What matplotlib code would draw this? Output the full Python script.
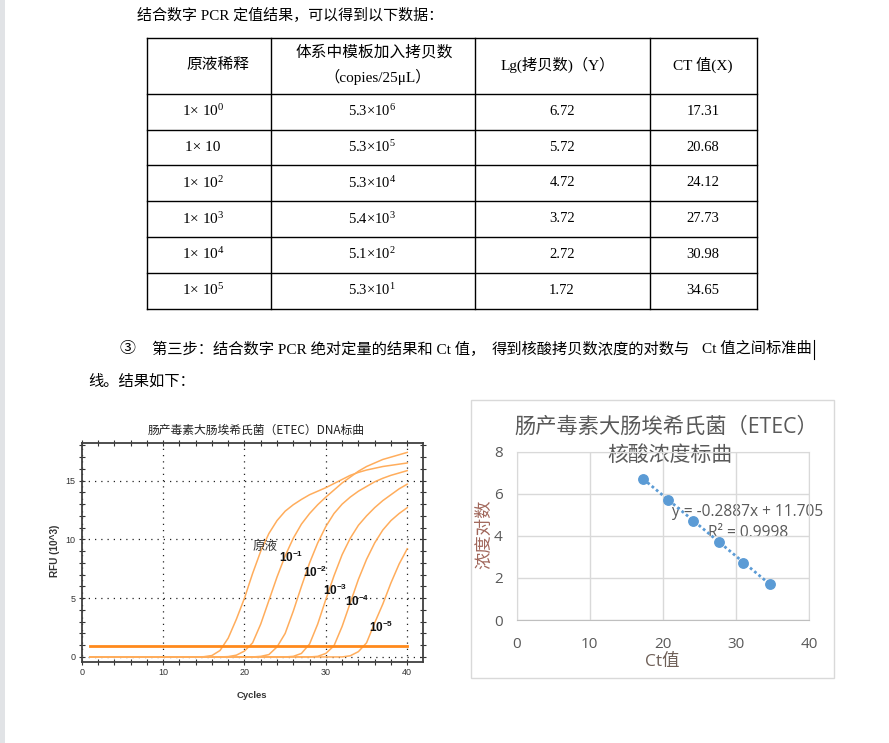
import numpy as np
import matplotlib
matplotlib.use('Agg')
import matplotlib.pyplot as plt
from matplotlib.patches import Rectangle
from matplotlib.ticker import MultipleLocator

plt.rcParams['mathtext.fontset'] = 'custom'
plt.rcParams['mathtext.rm'] = 'Liberation Serif'
plt.rcParams['mathtext.bf'] = 'Liberation Sans:bold'
plt.rcParams['mathtext.default'] = 'rm'

SERIF = ['Liberation Serif', 'Noto Sans CJK SC']
CJK = ['Noto Sans CJK SC', 'DejaVu Sans']
EXCEL = ['Open Sans', 'Noto Sans CJK SC']
ARIAL = ['Liberation Sans', 'DejaVu Sans']

# table data
dilutions = ['1× 10$^{0}$', '1× 10', '1× 10$^{2}$', '1× 10$^{3}$', '1× 10$^{4}$', '1× 10$^{5}$']
copies = ['5.3×10$^{6}$', '5.3×10$^{5}$', '5.3×10$^{4}$', '5.4×10$^{3}$', '5.1×10$^{2}$', '5.3×10$^{1}$']
lg_copies = [6.72, 5.72, 4.72, 3.72, 2.72, 1.72]
ct_values = [17.31, 20.68, 24.12, 27.73, 30.98, 34.65]

# amplification curves, RFU (10^3) per cycle 1..40
cycles = list(range(1, 41))
rfu_0 = [0.0] * 14 + [0.02, 0.12, 0.55, 1.6, 3.2, 5.0, 7.1, 9.0, 10.5, 11.6, 12.4, 12.95, 13.4,
                      13.8, 14.1, 14.4, 14.75, 15.1, 15.45, 15.7, 15.9, 16.05, 16.2, 16.3, 16.4, 16.5]
rfu_1 = [0.0] * 17 + [0.03, 0.15, 0.5, 1.2, 2.8, 4.8, 6.8, 8.6, 10.1, 11.3, 12.2, 12.95, 13.6,
                      14.2, 14.8, 15.3, 15.8, 16.2, 16.5, 16.8, 17.0, 17.2, 17.4]
rfu_2 = [0.0] * 21 + [0.05, 0.2, 0.85, 2.0, 3.9, 6.0, 8.0, 9.7, 11.1, 12.2, 13.0, 13.6, 14.1,
                      14.5, 14.9, 15.2, 15.45, 15.65, 15.85]
rfu_3 = [0.0] * 25 + [0.05, 0.3, 1.1, 2.8, 4.9, 6.9, 8.7, 10.1, 11.2, 12.0, 12.7, 13.3, 13.8, 14.3, 14.7]
rfu_4 = [0.0] * 28 + [0.05, 0.3, 0.95, 2.6, 4.6, 6.6, 8.3, 9.7, 10.8, 11.6, 12.2, 12.7]
rfu_5 = [0.0] * 32 + [0.1, 0.45, 1.2, 2.9, 4.5, 6.3, 7.9, 9.2]
threshold = 0.94
curve_labels = ['原液', r'$\mathbf{10^{-1}}$', r'$\mathbf{10^{-2}}$', r'$\mathbf{10^{-3}}$',
                r'$\mathbf{10^{-4}}$', r'$\mathbf{10^{-5}}$']

fig = plt.figure(figsize=(8.89, 7.43), dpi=100)

# page layer, pixel coordinates
page = fig.add_axes([0, 0, 1, 1], zorder=-1)
page.set_xlim(0, 889)
page.set_ylim(743, 0)
page.axis('off')
page.add_patch(Rectangle((0, 0), 5, 743, color='#E1E3E6', lw=0))

page.text(137, 16, '结合数字 PCR 定值结果，可以得到以下数据：', ha='left', va='center',
          fontsize=10.8, family=SERIF)

# table grid
col_x = [147, 270.5, 475, 650, 757]
row_y = [37.5, 93.5, 129.5, 165, 201, 236.5, 272.5, 308.5]
for x in col_x:
    page.plot([x, x], [row_y[0], row_y[-1]], color='black', lw=1.0)
for y in row_y:
    page.plot([col_x[0], col_x[-1]], [y, y], color='black', lw=1.0)

page.text(218, 65, '原液稀释', ha='center', va='center', fontsize=11.3, family=SERIF)
page.text(374, 52, '体系中模板加入拷贝数', ha='center', va='center', fontsize=11.3, family=SERIF)
page.text(378, 77, '（copies/25μL）', ha='center', va='center', fontsize=11, family=SERIF)
page.text(558, 65, 'Lg(拷贝数)（Y）', ha='center', va='center', fontsize=11, family=SERIF)
page.text(703, 65, 'CT 值(X)', ha='center', va='center', fontsize=11, family=SERIF)

for i in range(6):
    yc = (row_y[i + 1] + row_y[i + 2]) / 2
    page.text(203, yc, dilutions[i], ha='center', va='center', fontsize=11, family=SERIF)
    page.text(372, yc, copies[i], ha='center', va='center', fontsize=10.5, family=SERIF)
    page.text(562, yc, f'{lg_copies[i]:.2f}', ha='center', va='center', fontsize=10.5, family=SERIF)
    page.text(703, yc, f'{ct_values[i]:.2f}', ha='center', va='center', fontsize=10.5, family=SERIF)

# justified line: three pieces spread over the full width
page.text(120, 349, '③', ha='left', va='center', fontsize=11.5, family=SERIF)
page.text(152, 349, '第三步：结合数字 PCR 绝对定量的结果和 Ct 值，', ha='left', va='center',
          fontsize=11, family=SERIF)
page.text(492, 349, '得到核酸拷贝数浓度的对数与', ha='left', va='center', fontsize=11, family=SERIF)
page.text(812, 349, 'Ct 值之间标准曲', ha='right', va='center', fontsize=11, family=SERIF)
page.plot([814, 814], [340, 359], color='black', lw=0.8)
page.text(88, 381, '线。结果如下：', ha='left', va='center', fontsize=11, family=SERIF)

# left chart: amplification curves
page.text(256, 430, '肠产毒素大肠埃希氏菌（ETEC）DNA标曲', ha='center', va='center',
          fontsize=8.5, family=CJK, color='#222222')
page.text(55, 551, 'RFU (10^3)', rotation=90, ha='center', va='center', fontsize=7.2,
          fontweight='bold', family=ARIAL, color='#333333')
page.text(252, 695, 'Cycles', ha='center', va='center', fontsize=6.8,
          fontweight='bold', family=ARIAL, color='#333333')

ax1 = fig.add_axes([81.7 / 889, 1 - 662 / 743, 341 / 889, 219 / 743])
ax1.set_facecolor('none')
for rfu in [rfu_0, rfu_1, rfu_2, rfu_3, rfu_4, rfu_5]:
    ax1.plot(cycles, rfu, color='#FFAD5C', lw=1.1, zorder=3)
ax1.plot([cycles[0], cycles[-1]], [threshold, threshold], color='#FF8A1C', lw=2.0, zorder=4)
ax1.set_xlim(0, 41.9)
ax1.set_ylim(-0.43, 18.2)
ax1.set_xticks([0, 10, 20, 30, 40])
ax1.set_yticks([0, 5, 10, 15])
ax1.xaxis.set_minor_locator(MultipleLocator(2))
ax1.yaxis.set_minor_locator(MultipleLocator(1))
ax1.grid(True, which='major', color='#222222', lw=0.9, linestyle=(0, (1, 4)))
ax1.tick_params(which='both', direction='inout', length=4, width=0.8, color='#333333',
                top=True, right=True, labelsize=6.5, labelcolor='#333333', pad=2.5)
for lab in ax1.get_xticklabels() + ax1.get_yticklabels():
    lab.set_family(ARIAL)
for s in ax1.spines.values():
    s.set_color('#404040')
    s.set_linewidth(1.3)

label_pos = [(22.5, 9.4), (25.7, 8.5), (28.7, 7.2), (31.1, 5.7), (33.8, 4.7), (36.8, 2.55)]
for (lx, ly), txt in zip(label_pos, curve_labels):
    if txt == '原液':
        ax1.text(lx, ly, txt, ha='center', va='center', fontsize=9, family=CJK, color='#333333')
    else:
        ax1.text(lx, ly, txt, ha='center', va='center', fontsize=8.5, color='#111111')

# right chart: standard curve
page.add_patch(Rectangle((471, 400), 363, 278, fill=False, edgecolor='#D9D9D9', lw=1.0))
page.text(666, 427, '肠产毒素大肠埃希氏菌（ETEC）', ha='center', va='center', fontsize=15.3,
          family=EXCEL, color='#595959')
page.text(670, 455, '核酸浓度标曲', ha='center', va='center', fontsize=15,
          family=EXCEL, color='#595959')
page.text(485, 534, '浓度对数', rotation=90, ha='center', va='center', fontsize=12.5,
          family=EXCEL, color='#A0665A')
page.text(662, 662, 'Ct值', ha='center', va='center', fontsize=12.5, family=EXCEL, color='#6F6058')

ax2 = fig.add_axes([516.7 / 889, 1 - 620 / 743, 292.3 / 889, 168.3 / 743])
ax2.set_facecolor('none')
ax2.set_xlim(0, 40)
ax2.set_ylim(0, 8)
ax2.set_xticks([0, 10, 20, 30, 40])
ax2.set_yticks([0, 2, 4, 6, 8])
ax2.grid(True, color='#D9D9D9', lw=1.0)
ax2.set_axisbelow(True)
for s in ax2.spines.values():
    s.set_color('#D9D9D9')
ax2.spines['bottom'].set_color('#BFBFBF')
ax2.tick_params(axis='both', length=0, labelsize=11, labelcolor='#595959')
ax2.tick_params(axis='y', pad=10)
ax2.tick_params(axis='x', pad=12)
for lab in ax2.get_xticklabels() + ax2.get_yticklabels():
    lab.set_family(EXCEL)

fit = np.polyfit(ct_values, lg_copies, 1)
xs = np.array([min(ct_values), max(ct_values)])
ax2.plot(xs, np.polyval(fit, xs), color='#5B9BD5', lw=2.0, linestyle=(0, (1, 1)), zorder=3)
ax2.plot(ct_values, lg_copies, 'o', color='#5B9BD5', ms=6.8, zorder=4)

page.text(672, 512, 'y = -0.2887x + 11.705', ha='left', va='center', fontsize=11.2,
          family=EXCEL, color='#595959')
page.text(708, 533, 'R² = 0.9998', ha='left', va='center', fontsize=11.2,
          family=EXCEL, color='#595959')

fig.savefig('out.png', dpi=100)
